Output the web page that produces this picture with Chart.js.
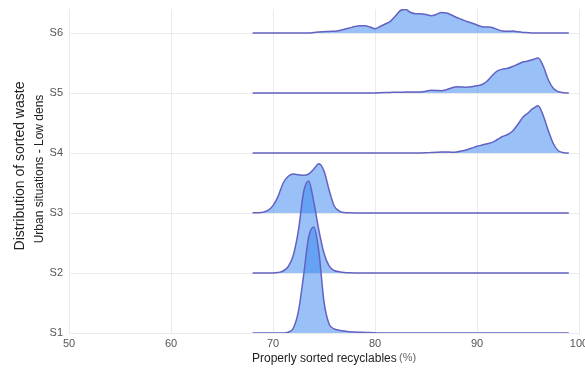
<!DOCTYPE html>
<html>
<head>
<meta charset="utf-8">
<title>Distribution of sorted waste</title>
<script src="https://cdn.jsdelivr.net/npm/chart.js@4.4.0/dist/chart.umd.min.js"></script>
<style>
    html, body { margin: 0; padding: 0; background: #fff; overflow: hidden; }
    #wrap { width: 600px; height: 369px; }
</style>
</head>
<body>
<div id="wrap"><canvas id="ridgeChart" width="600" height="369"></canvas></div>
<script>
// Properly sorted recyclables (%) where each density was sampled
const xValues = [
    68, 68.5, 69, 69.5, 70, 70.5, 71, 71.5, 72, 72.5, 73, 73.5, 74, 74.5, 75, 75.5,
    76, 76.5, 77, 77.5, 78, 78.5, 79, 79.5, 80, 80.5, 81, 81.5, 82, 82.5, 83, 83.5,
    84, 84.5, 85, 85.5, 86, 86.5, 87, 87.5, 88, 88.5, 89, 89.5, 90, 90.5, 91, 91.5,
    92, 92.5, 93, 93.5, 94, 94.5, 95, 95.5, 96, 96.5, 97, 97.5, 98, 98.5, 99
]

const scenarios = ["S1", "S2", "S3", "S4", "S5", "S6"]

// ridge heights, in units of one row
const s1Density = [
    0, 0, 0, 0, 0, 0, 0, 0.013, 0.083, 0.367, 0.962, 1.6, 1.767, 1.35, 0.517, 0.15,
    0.067, 0.047, 0.033, 0.022, 0.017, 0.013, 0.01, 0.007, 0.003, 0, 0, 0, 0, 0, 0, 0,
    0, 0, 0, 0, 0, 0, 0, 0, 0, 0, 0, 0, 0, 0, 0, 0,
    0, 0, 0, 0, 0, 0, 0, 0, 0, 0, 0, 0, 0, 0, 0
]
const s2Density = [
    0, 0, 0, 0, 0, 0.008, 0.033, 0.108, 0.3, 0.717, 1.35, 1.533, 1.18, 0.71, 0.33, 0.117,
    0.042, 0.02, 0.008, 0.003, 0, 0, 0, 0, 0, 0, 0, 0, 0, 0, 0, 0,
    0, 0, 0, 0, 0, 0, 0, 0, 0, 0, 0, 0, 0, 0, 0, 0,
    0, 0, 0, 0, 0, 0, 0, 0, 0, 0, 0, 0, 0, 0, 0
]
const s3Density = [
    0.003, 0.005, 0.013, 0.042, 0.122, 0.278, 0.5, 0.612, 0.65, 0.638, 0.628, 0.65, 0.733, 0.82, 0.7, 0.383,
    0.117, 0.033, 0.008, 0.003, 0, 0, 0, 0, 0, 0, 0, 0, 0, 0, 0, 0,
    0, 0, 0, 0, 0, 0, 0, 0, 0, 0, 0, 0, 0, 0, 0, 0,
    0, 0, 0, 0, 0, 0, 0, 0, 0, 0, 0, 0, 0, 0, 0
]
const s4Density = [
    0, 0, 0, 0, 0, 0, 0, 0, 0, 0, 0, 0, 0, 0, 0, 0,
    0, 0, 0, 0, 0, 0, 0, 0, 0, 0, 0, 0, 0, 0, 0, 0,
    0, 0, 0.003, 0.008, 0.013, 0.017, 0.017, 0.013, 0.017, 0.033, 0.055, 0.083, 0.112, 0.133, 0.153, 0.178,
    0.225, 0.275, 0.308, 0.367, 0.475, 0.595, 0.667, 0.742, 0.788, 0.62, 0.367, 0.15, 0.033, 0.005, 0
]
const s5Density = [
    0, 0, 0, 0, 0, 0, 0, 0, 0, 0, 0, 0, 0, 0, 0, 0,
    0, 0, 0, 0, 0, 0, 0, 0, 0, 0.005, 0.008, 0.01, 0.012, 0.013, 0.015, 0.015,
    0.015, 0.017, 0.03, 0.045, 0.043, 0.038, 0.055, 0.083, 0.105, 0.1, 0.095, 0.105, 0.122, 0.142, 0.2, 0.292,
    0.367, 0.397, 0.412, 0.442, 0.48, 0.517, 0.533, 0.558, 0.583, 0.445, 0.217, 0.075, 0.02, 0.003, 0
]
const s6Density = [
    0, 0, 0, 0, 0, 0, 0, 0, 0, 0, 0, 0, 0.008, 0.017, 0.022, 0.027,
    0.028, 0.042, 0.063, 0.083, 0.108, 0.122, 0.12, 0.1, 0.072, 0.108, 0.15, 0.195, 0.283, 0.375, 0.392, 0.342,
    0.322, 0.322, 0.308, 0.288, 0.308, 0.342, 0.333, 0.3, 0.258, 0.225, 0.192, 0.167, 0.133, 0.105, 0.1, 0.092,
    0.058, 0.033, 0.028, 0.033, 0.02, 0.01, 0.005, 0, 0, 0, 0, 0, 0, 0, 0
]

const densities = [s1Density, s2Density, s3Density, s4Density, s5Density, s6Density]

const xTicks = [50, 60, 70, 80, 90, 100]
const yTitleLines = ["Distribution of sorted waste", "Urban situations - Low dens"]
const xTitle = "Properly sorted recyclables"
const xTitleUnit = "(%)"

const colors = {
    fill: 'rgba(51, 132, 240, 0.5)',
    line: '#6262c2',
    grid: '#ebebeb',
    tick: '#555',
    title: '#222'
}
const fontFamily = '"Liberation Sans", Arial, sans-serif'

// each scenario sits on its own row, S1 at the bottom
function buildDatasets() {
    return scenarios.map((name, i) => {
        const base = i + 1
        return {
            label: name,
            data: xValues.map((x, j) => ({ x: x, y: base + densities[i][j] })),
            fill: { value: base },
            backgroundColor: colors.fill,
            borderColor: colors.line,
            borderWidth: 1.5,
            pointRadius: 0,
            cubicInterpolationMode: 'monotone'
        }
    })
}

// axis titles drawn by hand so they land where the reference has them
const axisTitles = {
    id: 'axisTitles',
    afterDraw(chart) {
        const ctx = chart.ctx
        ctx.save()
        ctx.fillStyle = colors.title
        ctx.textAlign = 'center'
        ctx.textBaseline = 'middle'

        ctx.save()
        ctx.translate(20, 166)
        ctx.rotate(-Math.PI / 2)
        ctx.font = '14px ' + fontFamily
        ctx.fillText(yTitleLines[0], 0, 0)
        ctx.restore()

        ctx.save()
        ctx.translate(40, 169)
        ctx.rotate(-Math.PI / 2)
        ctx.font = '12px ' + fontFamily
        ctx.fillText(yTitleLines[1], 0, 0)
        ctx.restore()

        ctx.textAlign = 'left'
        ctx.font = '12px ' + fontFamily
        ctx.fillText(xTitle, 252, 359)
        const w = ctx.measureText(xTitle + ' ').width
        ctx.fillStyle = '#666'
        ctx.font = '11px ' + fontFamily
        ctx.fillText(xTitleUnit, 252 + w - 1, 358)
        ctx.restore()
    }
}

new Chart(document.getElementById('ridgeChart').getContext('2d'), {
    type: 'line',
    data: { datasets: buildDatasets() },
    plugins: [axisTitles],
    options: {
        responsive: false,
        animation: false,
        devicePixelRatio: 1,
        layout: { padding: { top: 9, right: 21, left: 0, bottom: 0 } },
        scales: {
            x: {
                type: 'linear',
                min: xTicks[0],
                max: xTicks[xTicks.length - 1],
                afterBuildTicks: (scale) => { scale.ticks = xTicks.map(v => ({ value: v })) },
                afterFit: (scale) => {
                    scale.height = 36
                    scale.paddingLeft = 0
                    scale.paddingRight = 0
                },
                ticks: { padding: 4, color: colors.tick, font: { size: 11, family: fontFamily } },
                grid: { color: colors.grid, drawTicks: false },
                border: { color: colors.grid }
            },
            y: {
                type: 'linear',
                min: 1,
                max: 6.4,
                afterBuildTicks: (scale) => { scale.ticks = scenarios.map((s, i) => ({ value: i + 1 })) },
                afterFit: (scale) => {
                    scale.width = 69
                    scale.paddingTop = 0
                    scale.paddingBottom = 0
                },
                ticks: {
                    padding: 6,
                    color: colors.tick,
                    font: { size: 11, family: fontFamily },
                    callback: (value) => scenarios[value - 1]
                },
                grid: { color: colors.grid, drawTicks: false },
                border: { color: colors.grid }
            }
        },
        plugins: {
            legend: { display: false },
            tooltip: { enabled: false },
            filler: { drawTime: 'beforeDatasetDraw' }
        }
    }
})
</script>
</body>
</html>
